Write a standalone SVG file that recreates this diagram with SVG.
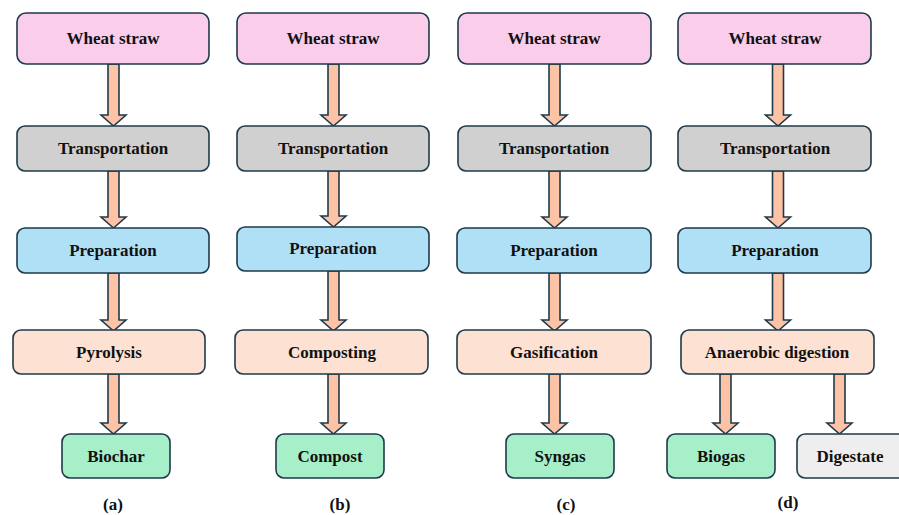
<svg xmlns="http://www.w3.org/2000/svg" width="899" height="515" viewBox="0 0 899 515" font-family="'Liberation Serif', 'Times New Roman', 'DejaVu Serif', serif">
<style>
.b{stroke:#1f3a4a;stroke-width:1.6}
.ws{fill:#facdeb}.tr{fill:#d0d0d0}.pr{fill:#b0e0f5}.pc{fill:#fde2d4}.pd{fill:#a7efc8}.dg{fill:#eeeeee}
text{font-family:'Liberation Serif', 'Times New Roman', serif;font-weight:bold;font-size:17px;fill:#111;text-anchor:middle}
.ar{fill:#fdc3a6;stroke:#1f3a4a;stroke-width:1.6;stroke-linejoin:miter}
</style>
<rect width="899" height="515" fill="#fff"/>
<g id="connectors">
<path class="ar" d="M108 64H119V115H126L113.5 126L101 115H108Z"/>
<path class="ar" d="M108 171H119V217H126L113.5 228L101 217H108Z"/>
<path class="ar" d="M108 273H119V320H126L113.5 331L101 320H108Z"/>
<path class="ar" d="M108 374H119V423H126L113.5 434L101 423H108Z"/>
<path class="ar" d="M328 64H339V115H346L333.5 126L321 115H328Z"/>
<path class="ar" d="M328 171H339V216H346L333.5 227L321 216H328Z"/>
<path class="ar" d="M328 271H339V320H346L333.5 331L321 320H328Z"/>
<path class="ar" d="M328 374H339V423H346L333.5 434L321 423H328Z"/>
<path class="ar" d="M549 64H560V115H567L554.5 126L542 115H549Z"/>
<path class="ar" d="M549 171H560V217H567L554.5 228L542 217H549Z"/>
<path class="ar" d="M549 273H560V320H567L554.5 331L542 320H549Z"/>
<path class="ar" d="M549 374H560V423H567L554.5 434L542 423H549Z"/>
<path class="ar" d="M772.5 64H783.5V115H790.5L778 126L765.5 115H772.5Z"/>
<path class="ar" d="M772.5 171H783.5V217H790.5L778 228L765.5 217H772.5Z"/>
<path class="ar" d="M772.5 273H783.5V320H790.5L778 331L765.5 320H772.5Z"/>
<path class="ar" d="M720 374H731V423H738L725.5 434L713 423H720Z"/>
<path class="ar" d="M834 374H845V423H852L839.5 434L827 423H834Z"/>
</g>
<g id="a-wheat"><rect class="b ws" x="17" y="13" width="192" height="51" rx="9"/><text x="113" y="44">Wheat straw</text></g>
<g id="a-transport"><rect class="b tr" x="17" y="126" width="192" height="45" rx="8"/><text x="113" y="154">Transportation</text></g>
<g id="a-prep"><rect class="b pr" x="17" y="228" width="192" height="45" rx="8"/><text x="113" y="256">Preparation</text></g>
<g id="a-pyro"><rect class="b pc" x="13" y="330" width="192" height="44" rx="8"/><text x="109" y="358">Pyrolysis</text></g>
<g id="a-biochar"><rect class="b pd" x="62" y="434" width="108" height="44" rx="8"/><text x="116" y="462">Biochar</text></g>
<text x="113" y="510">(a)</text>

<g id="b-wheat"><rect class="b ws" x="237" y="13" width="192" height="51" rx="9"/><text x="333" y="44">Wheat straw</text></g>
<g id="b-transport"><rect class="b tr" x="237" y="126" width="192" height="45" rx="8"/><text x="333" y="154">Transportation</text></g>
<g id="b-prep"><rect class="b pr" x="237" y="227" width="192" height="44" rx="8"/><text x="333" y="254">Preparation</text></g>
<g id="b-compost-proc"><rect class="b pc" x="235" y="330" width="193" height="44" rx="8"/><text x="332" y="358">Composting</text></g>
<g id="b-compost"><rect class="b pd" x="276" y="434" width="108" height="44" rx="8"/><text x="330" y="462">Compost</text></g>
<text x="340" y="510">(b)</text>

<g id="c-wheat"><rect class="b ws" x="458" y="13" width="193" height="51" rx="9"/><text x="554" y="44">Wheat straw</text></g>
<g id="c-transport"><rect class="b tr" x="458" y="126" width="193" height="45" rx="8"/><text x="554" y="154">Transportation</text></g>
<g id="c-prep"><rect class="b pr" x="457" y="228" width="194" height="45" rx="8"/><text x="554" y="256">Preparation</text></g>
<g id="c-gasif"><rect class="b pc" x="457" y="330" width="194" height="44" rx="8"/><text x="554" y="358">Gasification</text></g>
<g id="c-syngas"><rect class="b pd" x="506" y="434" width="108" height="44" rx="8"/><text x="560" y="462">Syngas</text></g>
<text x="566" y="510">(c)</text>

<g id="d-wheat"><rect class="b ws" x="678" y="13" width="193" height="51" rx="9"/><text x="775" y="44">Wheat straw</text></g>
<g id="d-transport"><rect class="b tr" x="678" y="126" width="193" height="45" rx="8"/><text x="775" y="154">Transportation</text></g>
<g id="d-prep"><rect class="b pr" x="678" y="228" width="193" height="45" rx="8"/><text x="775" y="256">Preparation</text></g>
<g id="d-anaer"><rect class="b pc" x="681" y="330" width="193" height="44" rx="8"/><text x="777" y="358">Anaerobic digestion</text></g>
<g id="d-biogas"><rect class="b pd" x="667" y="434" width="108" height="44" rx="8"/><text x="721" y="462">Biogas</text></g>
<g id="d-digestate"><rect class="b dg" x="797" y="434" width="112" height="44" rx="8"/><text x="850" y="462">Digestate</text></g>
<text x="788" y="508">(d)</text>
</svg>
